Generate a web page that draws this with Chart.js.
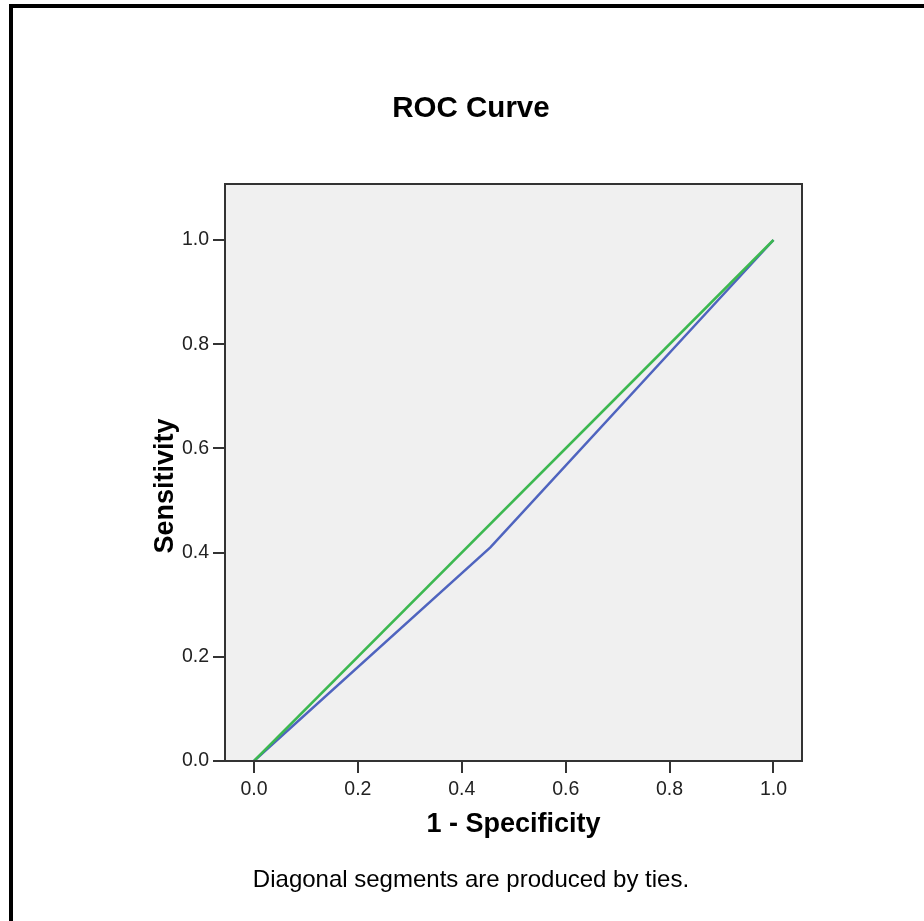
<!DOCTYPE html>
<html>
<head>
<meta charset="utf-8">
<title>ROC Curve</title>
<script src="https://cdn.jsdelivr.net/npm/chart.js@4.4.1/dist/chart.umd.min.js"></script>
<style>
  html, body { margin: 0; padding: 0; background: #fff; }
  #wrap { width: 924px; height: 921px; }
</style>
</head>
<body>
<div id="wrap"><canvas id="roc" width="924" height="921"></canvas></div>
<script>
// ROC-Kurve (1 - Spezifität gegen Sensitivität)
const specificityInv = [0, 0.455, 1];
const sensitivity = [0, 0.41, 1];

// Referenzlinie (Diagonale)
const refX = [0, 1];
const refY = [0, 1];

const xTicks = [0, 0.2, 0.4, 0.6, 0.8, 1.0];
const yTicks = [0, 0.2, 0.4, 0.6, 0.8, 1.0];

const titleText = 'ROC Curve';
const xTitle = '1 - Specificity';
const yTitle = 'Sensitivity';
const footnote = 'Diagonal segments are produced by ties.';

const FONT = '"Liberation Sans", Arial, sans-serif';

function toPoints(xs, ys) {
  return xs.map((x, i) => ({ x: x, y: ys[i] }));
}

// Rahmen, Hintergrund und Texte
const framePlugin = {
  id: 'frame',
  beforeDraw(chart) {
    const { ctx, chartArea } = chart;
    ctx.save();
    ctx.fillStyle = '#ffffff';
    ctx.fillRect(0, 0, chart.width, chart.height);
    // Seitenrahmen oben und links
    ctx.fillStyle = '#000000';
    ctx.fillRect(9, 4, chart.width - 9, 4);
    ctx.fillRect(9, 4, 4, chart.height - 4);
    // Plotfläche
    ctx.fillStyle = '#f0f0f0';
    ctx.fillRect(chartArea.left, chartArea.top, chartArea.right - chartArea.left, chartArea.bottom - chartArea.top);
    ctx.restore();
  },
  afterDatasetsDraw(chart) {
    const { ctx, chartArea } = chart;
    ctx.save();
    ctx.strokeStyle = '#333333';
    ctx.lineWidth = 2;
    ctx.strokeRect(chartArea.left, chartArea.top, chartArea.right - chartArea.left, chartArea.bottom - chartArea.top);
    ctx.restore();
  },
  afterDraw(chart) {
    const { ctx } = chart;
    ctx.save();
    ctx.fillStyle = '#000000';
    ctx.textAlign = 'center';
    ctx.textBaseline = 'middle';
    ctx.font = 'bold 29.5px ' + FONT;
    ctx.fillText(titleText, 471, 109);
    ctx.font = '24px ' + FONT;
    ctx.fillText(footnote, 471, 880);
    ctx.font = 'bold 27px ' + FONT;
    ctx.translate(166, 486);
    ctx.rotate(-Math.PI / 2);
    ctx.fillText(yTitle, 0, 0);
    ctx.restore();
  }
};

const ctx = document.getElementById('roc').getContext('2d');
new Chart(ctx, {
  type: 'scatter',
  data: {
    datasets: [{
      label: 'Reference Line',
      data: toPoints(refX, refY),
      showLine: true,
      borderColor: '#3cb850',
      borderWidth: 2.5,
      pointRadius: 0,
      fill: false
    },
    {
      label: 'ROC',
      data: toPoints(specificityInv, sensitivity),
      showLine: true,
      borderColor: '#4f64bf',
      borderWidth: 2.5,
      pointRadius: 0,
      fill: false
    }]
  },
  options: {
    responsive: false,
    animation: false,
    layout: {
      padding: { left: 150, right: 122, top: 184, bottom: 80 }
    },
    scales: {
      x: {
        type: 'linear',
        min: -0.0558,
        max: 1.0549,
        afterBuildTicks: (scale) => { scale.ticks = xTicks.map(v => ({ value: v })); },
        afterFit: (scale) => { scale.height = 80; },
        grid: {
          drawOnChartArea: false,
          drawTicks: true,
          tickLength: 12,
          lineWidth: 2,
          color: '#333333'
        },
        border: { display: false },
        ticks: {
          callback: (v) => Number(v).toFixed(1),
          color: '#222222',
          padding: 5,
          maxRotation: 0,
          font: { family: FONT, size: 19.5 }
        },
        title: {
          display: true,
          text: xTitle,
          color: '#000000',
          padding: { top: 0, bottom: 0 },
          font: { family: FONT, size: 27, weight: 'bold' }
        }
      },
      y: {
        type: 'linear',
        min: 0,
        max: 1.1075,
        afterBuildTicks: (scale) => { scale.ticks = yTicks.map(v => ({ value: v })); },
        afterFit: (scale) => { scale.width = 75; },
        grid: {
          drawOnChartArea: false,
          drawTicks: true,
          tickLength: 12,
          lineWidth: 2,
          color: '#333333'
        },
        border: { display: false },
        ticks: {
          callback: (v) => Number(v).toFixed(1),
          color: '#222222',
          padding: 4,
          font: { family: FONT, size: 19.5 }
        }
      }
    },
    plugins: {
      legend: { display: false },
      tooltip: { enabled: false }
    }
  },
  plugins: [framePlugin]
});
</script>
</body>
</html>
